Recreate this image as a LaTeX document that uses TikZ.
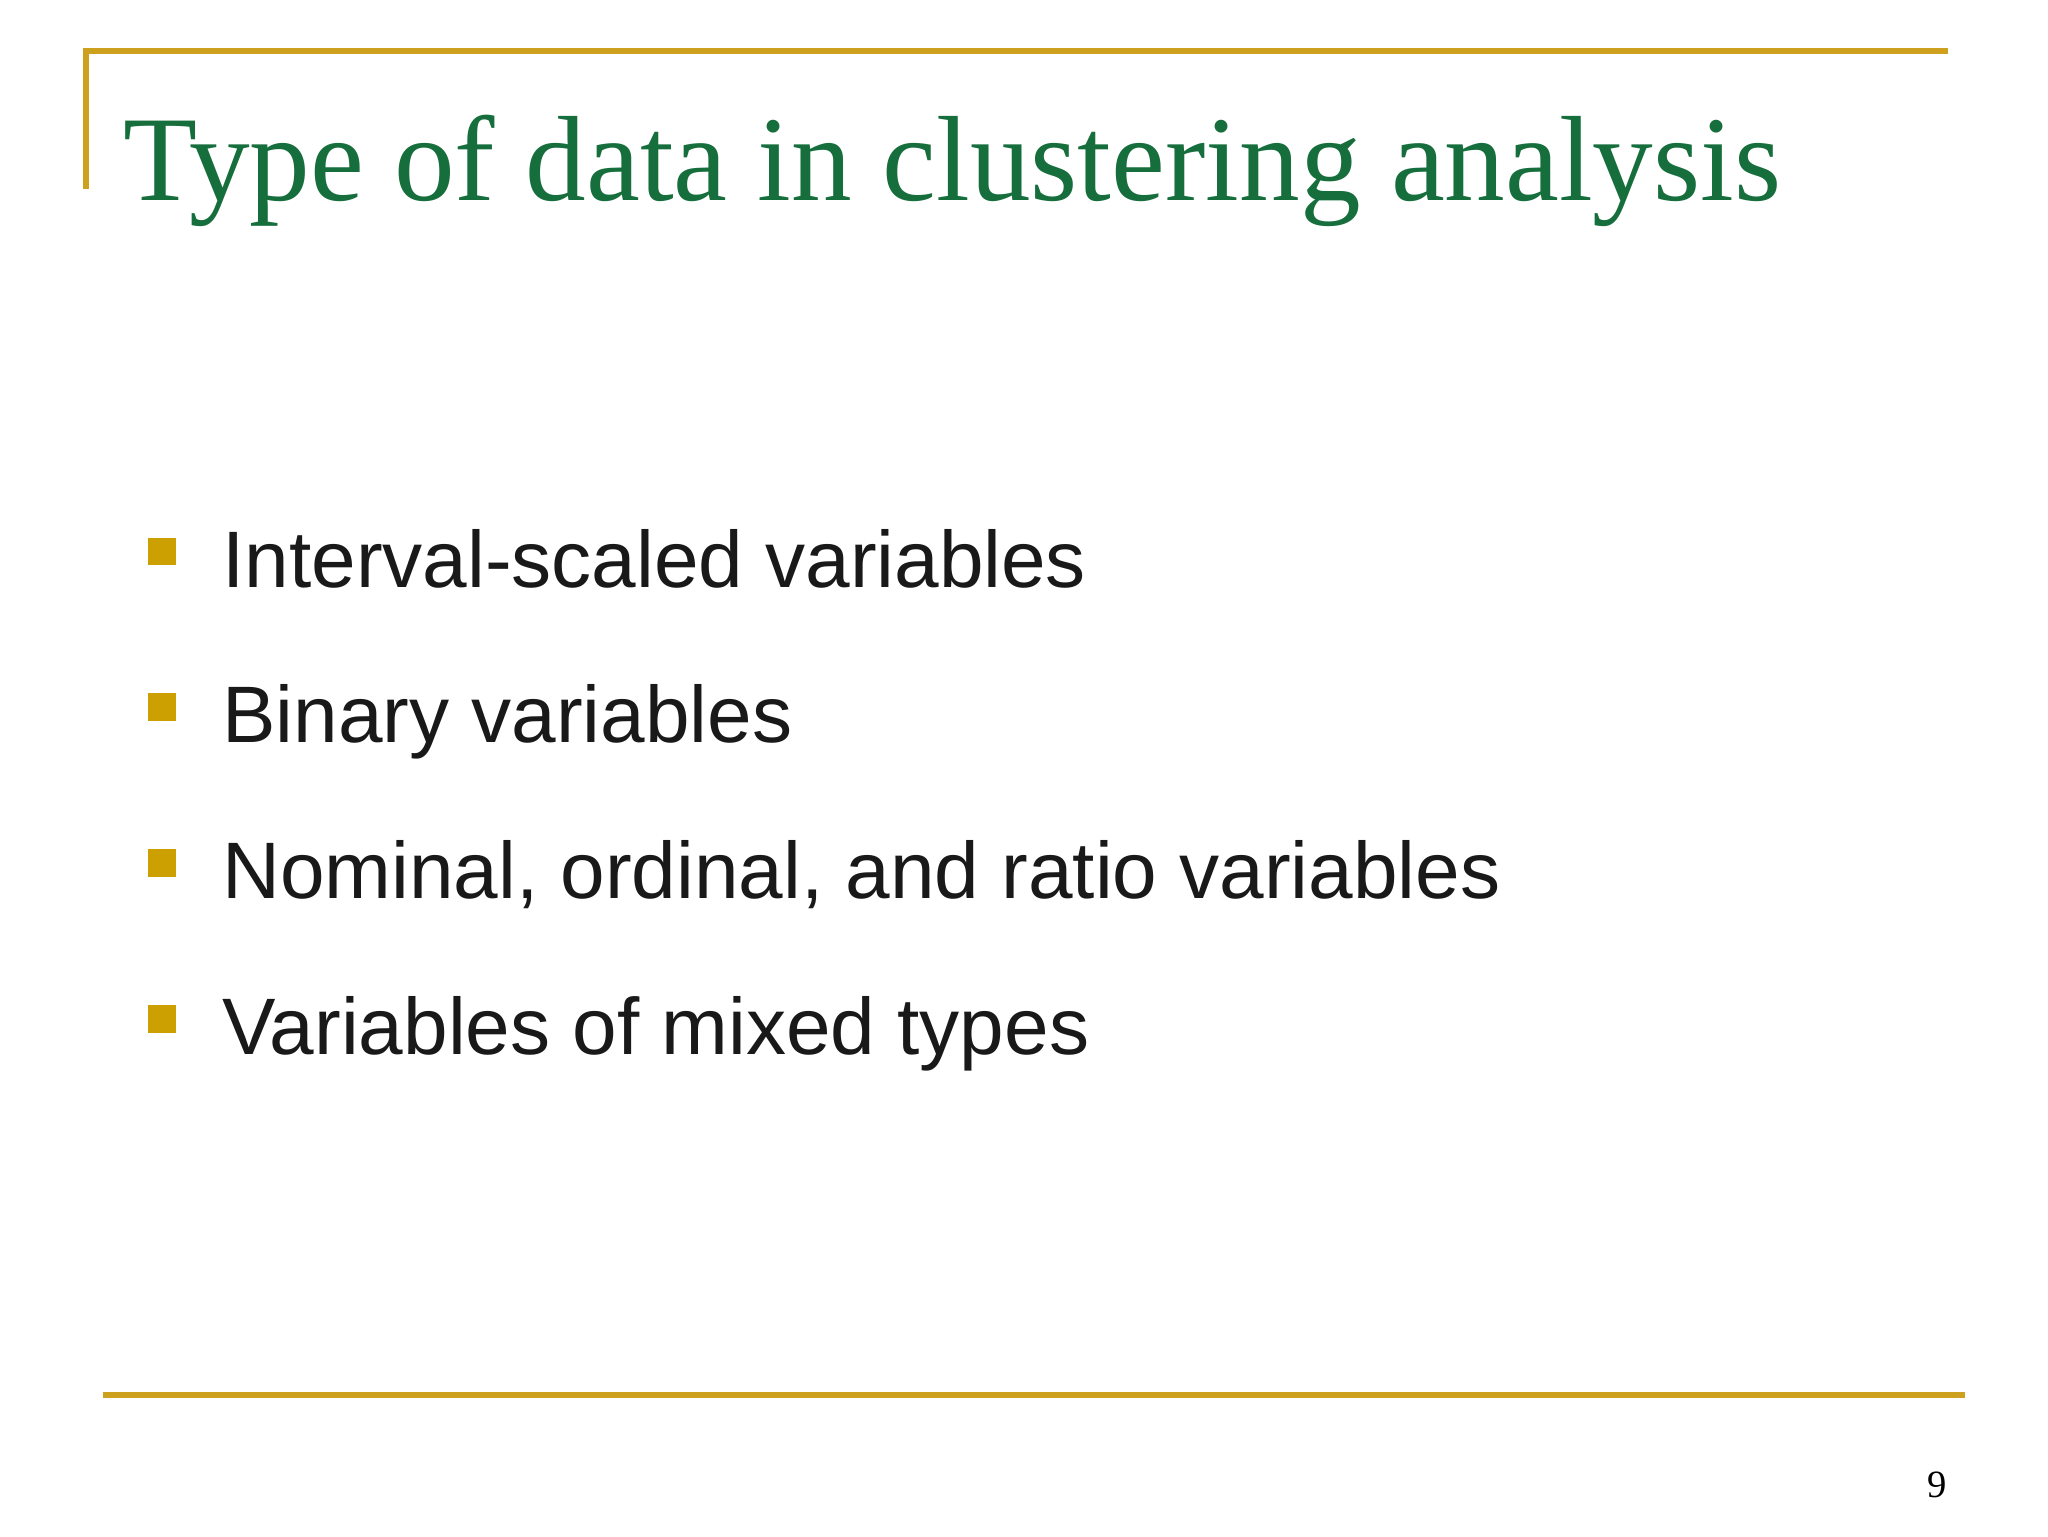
\documentclass[tikz,border=0pt]{standalone}
\usepackage{fontspec}
\setmainfont{Liberation Serif}
\setsansfont{Liberation Sans}
\definecolor{gold}{RGB}{205,160,30}
\definecolor{bgold}{RGB}{204,160,0}
\definecolor{tgreen}{RGB}{22,110,60}
\begin{document}
\begin{tikzpicture}[x=0.013196cm,y=-0.013196cm,
  rule/.style={draw=gold,line width=1.7pt},
  item/.style={anchor=base west,inner sep=0pt,font=\sffamily\fontsize{22.8}{28}\selectfont,text=black!90},
  bsq/.style={fill=bgold,draw=none,minimum size=21*0.13196mm,inner sep=0pt}]
\useasboundingbox (0,0) rectangle (1552,1164);
\draw[rule] (65,143) -- (65,39) -- (1476,39);
\draw[rule] (78,1057) -- (1489,1057);
\node[anchor=base west,inner sep=0pt,text=tgreen,font=\fontsize{34.5}{42}\selectfont] (title) at (93,152) {Type of data in clustering analysis};
\foreach \t [count=\i] in {Interval-scaled variables,Binary variables,{Nominal, ordinal, and ratio variables},Variables of mixed types}{
  \node[bsq] (b\i) at (123,{418+118*(\i-1)}) {};
  \node[item] (t\i) at (168,{445+118*(\i-1)}) {\t};
}
\node[anchor=base,inner sep=0pt,font=\fontsize{11}{13}\selectfont] (pg) at (1468,1135) {9};
\end{tikzpicture}
\end{document}
